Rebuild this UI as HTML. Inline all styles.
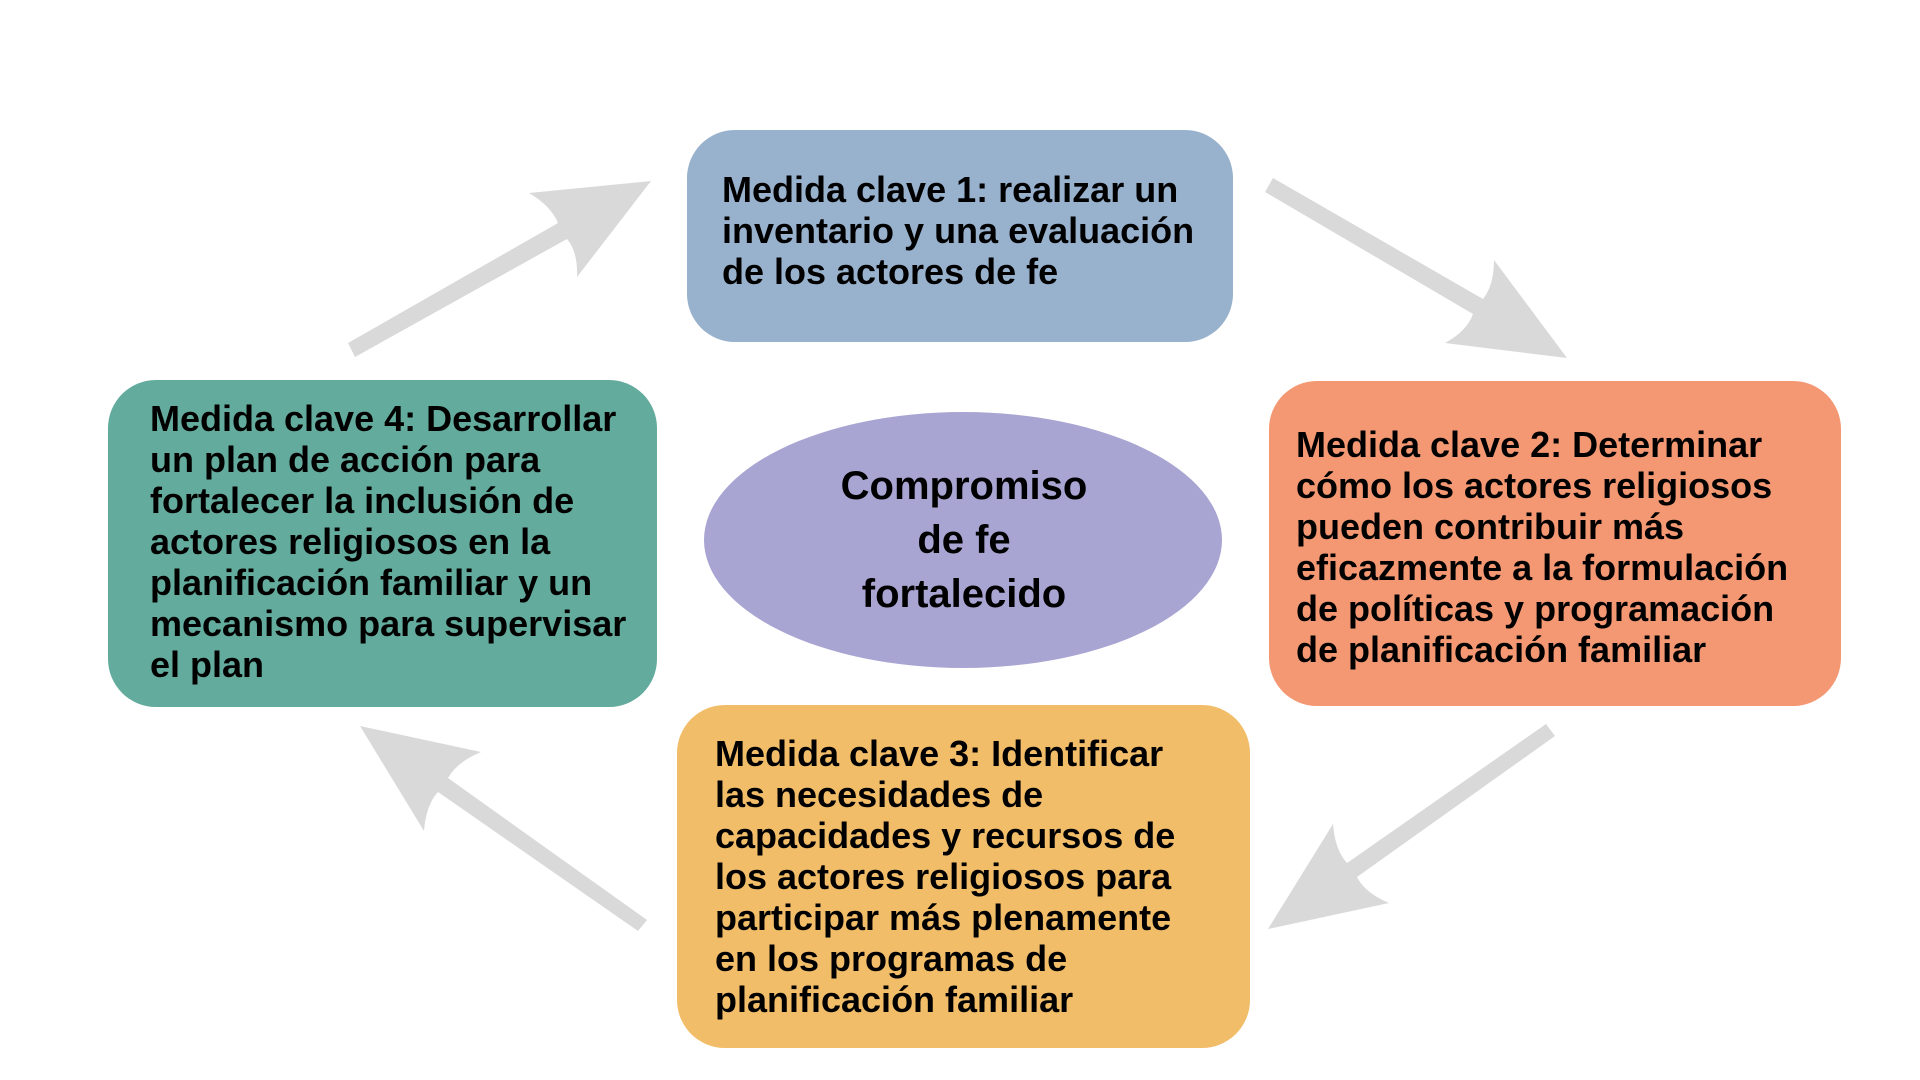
<!DOCTYPE html>
<html>
<head>
<meta charset="utf-8">
<style>
  html, body { margin:0; padding:0; }
  body { width:1920px; height:1080px; position:relative; background:#ffffff; overflow:hidden;
         font-family:"Liberation Sans", Arial, sans-serif; }
  .box { position:absolute; border-radius:48px; }
  .txt { position:absolute; font-weight:bold; font-size:36px; line-height:41px; color:#000;
         white-space:nowrap; }
  svg { position:absolute; left:0; top:0; }
</style>
</head>
<body>
<svg width="1920" height="1080" viewBox="0 0 1920 1080">
  <ellipse cx="963" cy="540" rx="259" ry="128" fill="#a8a5d2"/>
  <g fill="#d9d9d9">
    <path d="M348,343 L558,223 Q551,206 529,193 L651,181 L577,277 Q578,252 567,239 L355,357 Z"/>
    <path d="M1273,178 L1483,299 Q1494,285 1494,260 L1567,358 L1445,343 Q1467,331 1473,314 L1265,192 Z"/>
    <path d="M1546,724 L1347,863 Q1335,850 1333,824 L1268,929 L1389,903 Q1365,893 1357,877 L1555,736 Z"/>
    <path d="M647,920 L448,778 Q457,762 481,752 L360,726 L424,831 Q426,805 438,792 L638,931 Z"/>
  </g>
</svg>

<div class="box" style="left:687px;top:130px;width:546px;height:212px;background:#98b1cd;"></div>
<div class="box" style="left:1269px;top:381px;width:572px;height:325px;background:#f39873;"></div>
<div class="box" style="left:677px;top:705px;width:573px;height:343px;background:#f2bd69;"></div>
<div class="box" style="left:108px;top:380px;width:549px;height:327px;background:#63ab9d;"></div>

<div class="txt" style="left:722px;top:169px;">Medida clave 1: realizar un<br>inventario y una evaluación<br>de los actores de fe</div>

<div class="txt" style="left:1296px;top:424px;">Medida clave 2: Determinar<br>cómo los actores religiosos<br>pueden contribuir más<br>eficazmente a la formulación<br>de políticas y programación<br>de planificación familiar</div>

<div class="txt" style="left:715px;top:733px;">Medida clave 3: Identificar<br>las necesidades de<br>capacidades y recursos de<br>los actores religiosos para<br>participar más plenamente<br>en los programas de<br>planificación familiar</div>

<div class="txt" style="left:150px;top:398px;">Medida clave 4: Desarrollar<br>un plan de acción para<br>fortalecer la inclusión de<br>actores religiosos en la<br>planificación familiar y un<br>mecanismo para supervisar<br>el plan</div>

<div class="txt" style="left:764px;top:459px;width:400px;text-align:center;font-size:40px;line-height:54px;">Compromiso<br>de fe<br>fortalecido</div>
</body>
</html>
